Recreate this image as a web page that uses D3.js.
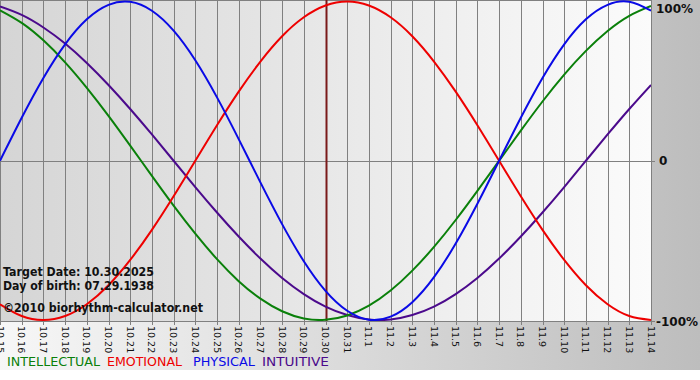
<!DOCTYPE html>
<html>
<head>
<meta charset="utf-8">
<script src="https://cdn.jsdelivr.net/npm/d3@7"></script>
<style>
html,body{margin:0;padding:0;background:#ffffff;}
svg{display:block;}
</style>
</head>
<body>
<div id="chart"></div>
<script>
// ---- data ----
const dates = ["10.15","10.16","10.17","10.18","10.19","10.20","10.21","10.22","10.23","10.24","10.25","10.26","10.27","10.28","10.29","10.30","10.31","11.1","11.2","11.3","11.4","11.5","11.6","11.7","11.8","11.9","11.10","11.11","11.12","11.13","11.14"];
const intellectual = [0.945,0.866,0.756,0.618,0.458,0.282,0.095,-0.095,-0.282,-0.458,-0.618,-0.756,-0.866,-0.945,-0.990,-0.999,-0.972,-0.910,-0.815,-0.690,-0.541,-0.372,-0.189,0,0.189,0.372,0.541,0.690,0.815,0.910,0.972];
const emotional = [-0.901,-0.975,-1,-0.975,-0.901,-0.782,-0.623,-0.434,-0.223,0,0.223,0.434,0.623,0.782,0.901,0.975,1,0.975,0.901,0.782,0.623,0.434,0.223,0,-0.223,-0.434,-0.623,-0.782,-0.901,-0.975,-1];
const physical = [0,0.270,0.520,0.731,0.888,0.979,0.998,0.942,0.817,0.631,0.398,0.136,-0.136,-0.398,-0.631,-0.817,-0.942,-0.998,-0.979,-0.888,-0.731,-0.520,-0.270,0,0.270,0.520,0.731,0.888,0.979,0.998,0.942];
const intuitive = [0.969,0.916,0.837,0.736,0.614,0.476,0.325,0.165,0,-0.165,-0.325,-0.476,-0.614,-0.736,-0.837,-0.916,-0.969,-0.997,-0.997,-0.969,-0.916,-0.837,-0.736,-0.614,-0.476,-0.325,-0.165,0,0.165,0.325,0.476];
const seriesNames = ["INTELLECTUAL","EMOTIONAL","PHYSICAL","INTUITIVE"];
const seriesColors = ["#0a800a","#ee0000","#0a0ae6","#4b0a8c"];
const yTickValues = [1,0,-1];
const yTickLabels = ["100%","0","-100%"];
const targetDate = "10.30";
const infoLines = ["Target Date: 10.30.2025","Day of birth: 07.29.1938","\u00a92010 biorhythm-calculator.net"];

const W = 700, H = 380;
const plot = {left:0, right:651, top:0, bottom:321};

const svg = d3.select("#chart").append("svg").attr("width",W).attr("height",H);
const defs = svg.append("defs");
const g1 = defs.append("linearGradient").attr("id","outerGrad").attr("x1","0").attr("x2","1").attr("y1","0").attr("y2","0");
g1.append("stop").attr("offset","0").attr("stop-color","#f7f7f7");
g1.append("stop").attr("offset","1").attr("stop-color","#bdbdbd");
const g2 = defs.append("linearGradient").attr("id","plotGrad").attr("x1","0").attr("x2","1").attr("y1","0").attr("y2","0");
g2.append("stop").attr("offset","0").attr("stop-color","#d5d5d5");
g2.append("stop").attr("offset","1").attr("stop-color","#fbfbfb");
defs.append("clipPath").attr("id","clip").append("rect")
  .attr("x",plot.left).attr("y",plot.top).attr("width",plot.right-plot.left).attr("height",plot.bottom-plot.top);

svg.append("rect").attr("x",0).attr("y",0).attr("width",W).attr("height",370).attr("fill","url(#outerGrad)");
svg.append("rect").attr("x",plot.left).attr("y",plot.top).attr("width",plot.right-plot.left).attr("height",plot.bottom-plot.top).attr("fill","url(#plotGrad)");

const x = d3.scalePoint().domain(dates).range([plot.left, plot.right]);
const y = d3.scaleLinear().domain([-1,1]).range([320, 1.5]);

// vertical grid lines
svg.append("g").selectAll("line").data(dates).join("line")
  .attr("x1",d=>Math.round(x(d))+0.5).attr("x2",d=>Math.round(x(d))+0.5)
  .attr("y1",plot.top).attr("y2",plot.bottom+4)
  .attr("stroke","#808080").attr("stroke-width",1);
// horizontal lines
svg.append("line").attr("x1",plot.left).attr("x2",plot.right+4).attr("y1",Math.round(y(0))+0.5).attr("y2",Math.round(y(0))+0.5).attr("stroke","#808080");
svg.append("line").attr("x1",plot.left).attr("x2",plot.right).attr("y1",0.5).attr("y2",0.5).attr("stroke","#808080");
svg.append("line").attr("x1",plot.left).attr("x2",plot.right+4).attr("y1",plot.bottom+0.5).attr("y2",plot.bottom+0.5).attr("stroke","#808080");

// target line
svg.append("line").attr("x1",Math.round(x(targetDate))+0.5).attr("x2",Math.round(x(targetDate))+0.5)
  .attr("y1",plot.top).attr("y2",plot.bottom).attr("stroke","#7a1a1a").attr("stroke-width",2);

// series
const allSeries = [intellectual, emotional, physical, intuitive];
const line = d3.line().x((d,i)=>x(dates[i])).y(d=>y(d)).curve(d3.curveNatural);
const lg = svg.append("g").attr("clip-path","url(#clip)");
// draw order: intuitive, intellectual, emotional, physical
[3,0,1,2].forEach(k=>{
  lg.append("path").attr("d",line(allSeries[k])).attr("fill","none")
    .attr("stroke",seriesColors[k]).attr("stroke-width",2);
});

// y labels
svg.append("g").selectAll("text").data(yTickValues).join("text")
  .attr("x",d=>d===0?659:656).attr("y",d=>d===1?13:(d===0?y(d)+4.5:325.5))
  .attr("font-family","DejaVu Sans, Verdana, sans-serif").attr("font-weight","bold").attr("font-size",12)
  .attr("fill","#111").text((d,i)=>yTickLabels[i]);

// x tick labels (rotated)
svg.append("g").selectAll("text").data(dates).join("text")
  .attr("transform",d=>`translate(${x(d)-3.5},326) rotate(90)`)
  .attr("font-family","DejaVu Sans, Verdana, sans-serif").attr("font-size",9.5)
  .attr("fill","#111").text(d=>d);

// info text
const infoY = [276,290,312];
const infoLen = [151,151,200];
svg.append("g").selectAll("text").data(infoLines).join("text")
  .attr("x",3).attr("y",(d,i)=>infoY[i])
  .attr("font-family","DejaVu Sans, Verdana, sans-serif").attr("font-weight","bold")
  .attr("font-size",(d,i)=>i===2?12.5:11.5)
  .attr("textLength",(d,i)=>infoLen[i]).attr("lengthAdjust","spacingAndGlyphs")
  .attr("fill","#111").text(d=>d);

// legend
const legX = [7,107,193,262];
const legLen = [93,75,62,67];
svg.append("g").selectAll("text").data(seriesNames).join("text")
  .attr("x",(d,i)=>legX[i]).attr("y",366)
  .attr("font-family","DejaVu Sans, Verdana, sans-serif").attr("font-size",11.5)
  .attr("textLength",(d,i)=>legLen[i]).attr("lengthAdjust","spacingAndGlyphs")
  .attr("fill",(d,i)=>seriesColors[i]).text(d=>d);
</script>
</body>
</html>
